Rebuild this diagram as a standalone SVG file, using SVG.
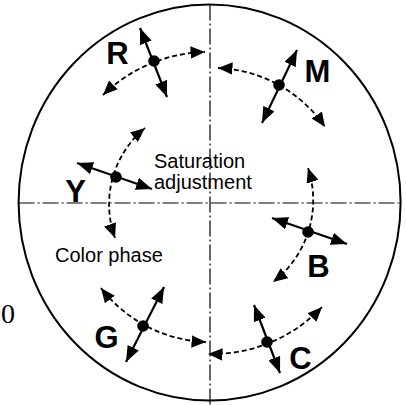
<svg xmlns="http://www.w3.org/2000/svg" width="406" height="405" viewBox="0 0 406 405">
<style>
.axis{stroke:#000;stroke-width:1.2;stroke-dasharray:16 3 2 3;fill:none}
.rim{stroke:#000;stroke-width:2;fill:none}
.radial{stroke:#000;stroke-width:2.2;fill:none;marker-start:url(#ah);marker-end:url(#ah)}
.arc{stroke:#000;stroke-width:1.8;stroke-dasharray:5 3;fill:none;marker-start:url(#ah2);marker-end:url(#ah2)}
.lbl{font-family:"Liberation Sans",Arial,sans-serif;font-weight:bold;font-size:31px;fill:#000;text-anchor:middle}
.note{font-family:"Liberation Sans",Arial,sans-serif;font-size:20px;fill:#000}
</style>
<defs>
<marker id="ah" viewBox="0 0 16 12.5" markerWidth="16" markerHeight="12.5" refX="16" refY="6.25" orient="auto-start-reverse" markerUnits="userSpaceOnUse">
<path d="M0,0 L16,6.25 L0,12.5 Z" fill="#000"/>
</marker>
<marker id="ah2" viewBox="0 0 14.5 12.5" markerWidth="14.5" markerHeight="12.5" refX="14.5" refY="6.25" orient="auto-start-reverse" markerUnits="userSpaceOnUse">
<path d="M0,0 L14.5,6.25 L0,12.5 Z" fill="#000"/>
</marker>
</defs>
<rect width="406" height="405" fill="#fff"/>
<g id="frame">
<ellipse class="rim" cx="209.6" cy="202.5" rx="191" ry="198"/>
<line class="axis" x1="210" y1="4.5" x2="210" y2="405"/>
<line class="axis" x1="18.6" y1="203" x2="400.6" y2="203"/>
</g>
<g id="connectors">
<path class="arc" d="M103,95 A152,152 0 0 1 205,52"/>
<path class="arc" d="M218,68 A136,136 0 0 1 325,127"/>
<path class="arc" d="M115,238 A99,99 0 0 1 145,128"/>
<path class="arc" d="M308,168 A103,103 0 0 1 273,282"/>
<path class="arc" d="M206,342 A139,139 0 0 1 101,288"/>
<path class="arc" d="M322,307 A152,152 0 0 1 208,354"/>
<line class="radial" x1="140" y1="28" x2="167" y2="97"/>
<line class="radial" x1="297" y1="50" x2="262" y2="123"/>
<line class="radial" x1="77" y1="163" x2="152" y2="189"/>
<line class="radial" x1="272" y1="218" x2="347" y2="244"/>
<line class="radial" x1="164" y1="287" x2="126" y2="362"/>
<line class="radial" x1="254" y1="305" x2="280" y2="373"/>
</g>
<g id="node-R"><circle cx="154" cy="61" r="5.8"/><text class="lbl" x="117.5" y="64">R</text></g>
<g id="node-M"><circle cx="279" cy="85" r="5.8"/><text class="lbl" x="317.5" y="82">M</text></g>
<g id="node-Y"><circle cx="116" cy="177" r="5.8"/><text class="lbl" x="75.5" y="202">Y</text></g>
<g id="node-B"><circle cx="308" cy="232" r="5.8"/><text class="lbl" x="318.5" y="277">B</text></g>
<g id="node-G"><circle cx="143" cy="326" r="5.8"/><text class="lbl" x="106.5" y="348">G</text></g>
<g id="node-C"><circle cx="267" cy="342" r="5.8"/><text class="lbl" x="300.5" y="369">C</text></g>
<g id="notes">
<text class="note" x="154" y="168">Saturation</text>
<text class="note" x="154" y="189">adjustment</text>
<text class="note" x="55" y="262">Color phase</text>
<text x="1" y="323" font-family="'Liberation Serif','Times New Roman',serif" font-size="28" fill="#000">0</text>
</g>
</svg>
